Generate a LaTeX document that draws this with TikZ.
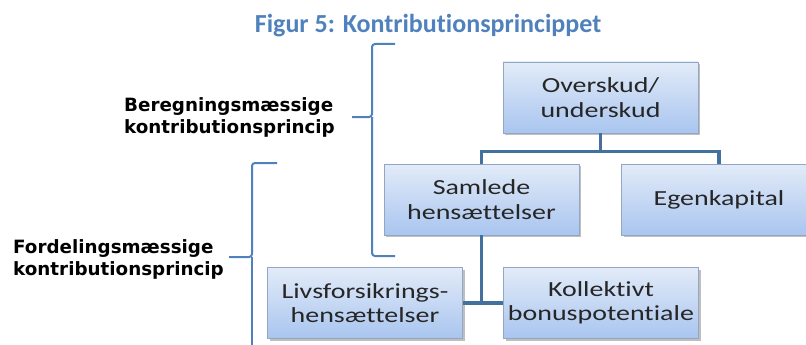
\documentclass[tikz,border=0pt]{standalone}
\usepackage{fontspec}
\usetikzlibrary{shadows}
\newfontfamily\boxfont{Carlito}[FakeStretch=1.3, Ligatures=NoCommon]
\newfontfamily\titlefont{Carlito}[Ligatures=NoCommon]
\newfontfamily\labelfont{DejaVu Sans}
\definecolor{headblue}{HTML}{4F81BD}
\definecolor{linkblue}{HTML}{41719C}
\definecolor{boxtop}{HTML}{E2EBF8}
\definecolor{boxbottom}{HTML}{A9C5EF}
\definecolor{boxedge}{HTML}{93A7C2}
\tikzstyle{post}=[draw=boxedge, line width=0.8pt, top color=boxtop, bottom color=boxbottom, minimum width=195, minimum height=71, align=center, text=black!85, font=\boxfont\fontsize{21.5}{24.5}\selectfont, drop shadow={shadow xshift=2pt, shadow yshift=-2pt, fill=black, opacity=0.25}]
\tikzstyle{link}=[draw=linkblue, line width=3.5pt]
\tikzstyle{brace}=[draw=headblue, line width=2pt, rounded corners=3pt]
\tikzstyle{princip}=[anchor=west, align=left, inner sep=0pt, font=\labelfont\bfseries\fontsize{18.3}{22}\selectfont]

\begin{document}
\begin{tikzpicture}[x=1pt, y=-1pt]
				\useasboundingbox (0,0) rectangle (806,345);
				\node[text=headblue, font=\titlefont\bfseries\fontsize{26}{30}\selectfont] (title) at (428,26) {Figur 5: Kontributionsprincippet};
				\node[post] (over) at (600.5,97.5) {Overskud/\\underskud};
				\node[post] (saml) at (481.5,199.5) {Samlede\\hensættelser};
				\node[post] (egen) at (719,199.5) {Egenkapital};
				\node[post] (livs) at (365,303) {Livsforsikrings-\\hensættelser};
				\node[post] (koll) at (601,303) {Kollektivt\\bonuspotentiale};
				\draw[link] (over.south) -- ++(0,18) -| (saml.north);
				\draw[link] (over.south) -- ++(0,18) -| (egen.north);
				\draw[link] (saml.south) |- (livs.east);
				\draw[link] (saml.south) |- (koll.west);
				\draw[brace] (395,44) -- (372,44) -- (372,117) -- (352,117);
				\draw[brace] (372,117) -- (372,256) -- (395,256);
				\draw[brace] (277,163) -- (252,163) -- (252,257) -- (229,257);
				\draw[brace] (252,257) -- (252,350);
				\node[princip] (berg) at (124,117) {Beregningsmæssige\\kontributionsprincip};
				\node[princip] (ford) at (13,259) {Fordelingsmæssige\\kontributionsprincip};
			\end{tikzpicture}
\end{document}
